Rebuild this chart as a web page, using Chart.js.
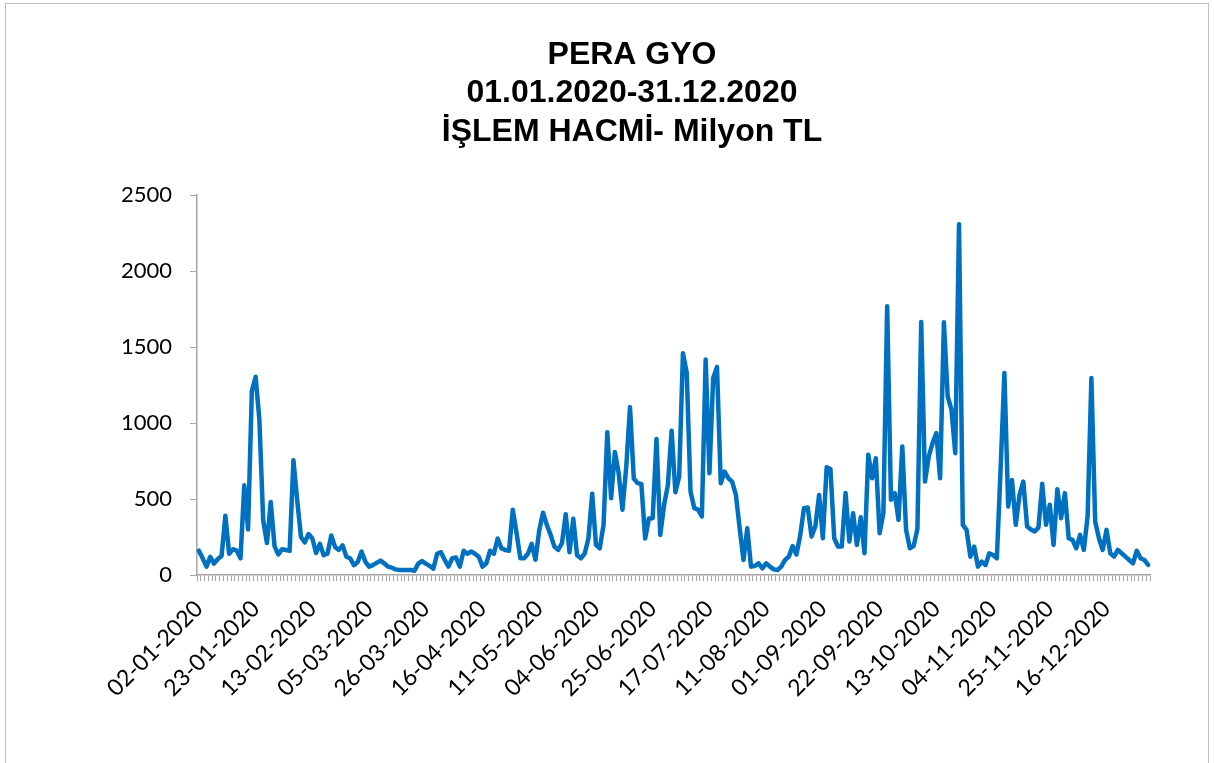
<!DOCTYPE html>
<html>
<head>
<meta charset="utf-8">
<script src="https://cdn.jsdelivr.net/npm/chart.js@4.4.0/dist/chart.umd.min.js"></script>
<style>
  html, body { margin: 0; padding: 0; background: #fff; }
  canvas { display: block; }
</style>
</head>
<body>
<canvas id="chart" width="1214" height="763"></canvas>
<script>
// trading days of 2020 (Borsa Istanbul)
const tradingDays = [
  '02-01-2020','03-01-2020','06-01-2020','07-01-2020','08-01-2020','09-01-2020','10-01-2020','13-01-2020','14-01-2020','15-01-2020','16-01-2020','17-01-2020','20-01-2020','21-01-2020','22-01-2020','23-01-2020','24-01-2020','27-01-2020','28-01-2020','29-01-2020','30-01-2020','31-01-2020',
  '03-02-2020','04-02-2020','05-02-2020','06-02-2020','07-02-2020','10-02-2020','11-02-2020','12-02-2020','13-02-2020','14-02-2020','17-02-2020','18-02-2020','19-02-2020','20-02-2020','21-02-2020','24-02-2020','25-02-2020','26-02-2020','27-02-2020','28-02-2020',
  '02-03-2020','03-03-2020','04-03-2020','05-03-2020','06-03-2020','09-03-2020','10-03-2020','11-03-2020','12-03-2020','13-03-2020','16-03-2020','17-03-2020','18-03-2020','19-03-2020','20-03-2020','23-03-2020','24-03-2020','25-03-2020','26-03-2020','27-03-2020','30-03-2020','31-03-2020',
  '01-04-2020','02-04-2020','03-04-2020','06-04-2020','07-04-2020','08-04-2020','09-04-2020','10-04-2020','13-04-2020','14-04-2020','15-04-2020','16-04-2020','17-04-2020','20-04-2020','21-04-2020','22-04-2020','24-04-2020','27-04-2020','28-04-2020','29-04-2020','30-04-2020',
  '04-05-2020','05-05-2020','06-05-2020','07-05-2020','08-05-2020','11-05-2020','12-05-2020','13-05-2020','14-05-2020','15-05-2020','18-05-2020','20-05-2020','21-05-2020','22-05-2020','27-05-2020','28-05-2020','29-05-2020',
  '01-06-2020','02-06-2020','03-06-2020','04-06-2020','05-06-2020','08-06-2020','09-06-2020','10-06-2020','11-06-2020','12-06-2020','15-06-2020','16-06-2020','17-06-2020','18-06-2020','19-06-2020','22-06-2020','23-06-2020','24-06-2020','25-06-2020','26-06-2020','29-06-2020','30-06-2020',
  '01-07-2020','02-07-2020','03-07-2020','06-07-2020','07-07-2020','08-07-2020','09-07-2020','10-07-2020','13-07-2020','14-07-2020','16-07-2020','17-07-2020','20-07-2020','21-07-2020','22-07-2020','23-07-2020','24-07-2020','27-07-2020','28-07-2020','29-07-2020','30-07-2020',
  '04-08-2020','05-08-2020','06-08-2020','07-08-2020','10-08-2020','11-08-2020','12-08-2020','13-08-2020','14-08-2020','17-08-2020','18-08-2020','19-08-2020','20-08-2020','21-08-2020','24-08-2020','25-08-2020','26-08-2020','27-08-2020','28-08-2020','31-08-2020',
  '01-09-2020','02-09-2020','03-09-2020','04-09-2020','07-09-2020','08-09-2020','09-09-2020','10-09-2020','11-09-2020','14-09-2020','15-09-2020','16-09-2020','17-09-2020','18-09-2020','21-09-2020','22-09-2020','23-09-2020','24-09-2020','25-09-2020','28-09-2020','29-09-2020','30-09-2020',
  '01-10-2020','02-10-2020','05-10-2020','06-10-2020','07-10-2020','08-10-2020','09-10-2020','12-10-2020','13-10-2020','14-10-2020','15-10-2020','16-10-2020','19-10-2020','20-10-2020','21-10-2020','22-10-2020','23-10-2020','26-10-2020','27-10-2020','28-10-2020','30-10-2020',
  '02-11-2020','03-11-2020','04-11-2020','05-11-2020','06-11-2020','09-11-2020','10-11-2020','11-11-2020','12-11-2020','13-11-2020','16-11-2020','17-11-2020','18-11-2020','19-11-2020','20-11-2020','23-11-2020','24-11-2020','25-11-2020','26-11-2020','27-11-2020','30-11-2020',
  '01-12-2020','02-12-2020','03-12-2020','04-12-2020','07-12-2020','08-12-2020','09-12-2020','10-12-2020','11-12-2020','14-12-2020','15-12-2020','16-12-2020','17-12-2020','18-12-2020','21-12-2020','22-12-2020','23-12-2020','24-12-2020','25-12-2020','28-12-2020','29-12-2020','30-12-2020','31-12-2020'
];

// dates that get a label under the axis
const shownDates = [
  '02-01-2020','23-01-2020','13-02-2020','05-03-2020','26-03-2020','16-04-2020',
  '11-05-2020','04-06-2020','25-06-2020','17-07-2020','11-08-2020','01-09-2020',
  '22-09-2020','13-10-2020','04-11-2020','25-11-2020','16-12-2020'
];

// daily trading volume, million TL
const volume = [
  160, 110, 55, 120, 75, 105, 125, 390, 140, 170, 160, 110, 590, 300, 1210, 1305, 1020, 360, 210, 480, 190, 135,
  170, 165, 160, 755, 490, 250, 215, 270, 240, 145, 205, 130, 140, 260, 185, 165, 195, 120, 110, 65,
  85, 155, 88, 55, 65, 80, 95, 77, 55, 48, 37, 33, 33, 33, 33, 28, 75, 92, 75, 60, 42, 140,
  150, 100, 55, 110, 115, 55, 160, 140, 155, 140, 120, 55, 77, 160, 140, 240, 175, 165, 160, 430, 275,
  110, 110, 140, 205, 100, 295, 410, 330, 265, 187, 165, 209, 400, 150, 370, 130, 110,
  140, 240, 535, 198, 176, 330, 940, 505, 810, 670, 430, 710, 1105, 635, 605, 600, 240, 372, 374, 895, 264, 460,
  590, 950, 545, 648, 1460, 1330, 550, 440, 430, 385, 1418, 670, 1297, 1370, 604, 681, 637, 615, 527, 308, 99,
  308, 55, 59, 77, 44, 77, 55, 37, 33, 55, 99, 121, 190, 135, 260, 440, 444, 253, 319, 527,
  242, 710, 697, 242, 187, 187, 539, 220, 407, 198, 380, 143, 791, 637, 769, 275, 407, 1769, 495, 539, 363, 846,
  297, 176, 190, 305, 1665, 615, 780, 868, 934, 637, 1664, 1176, 1088, 802, 2308, 330, 297, 121, 187, 55, 88,
  66, 143, 132, 110, 700, 1330, 451, 626, 330, 527, 615, 319, 300, 286, 312, 600, 330, 462, 198, 565, 374,
  539, 242, 231, 176, 264, 165, 385, 1297, 352, 242, 165, 297, 143, 121, 165, 143, 121, 99, 77, 160, 110, 99, 66
];

const titleLines = ['PERA GYO', '01.01.2020-31.12.2020', 'İŞLEM HACMİ- Milyon TL'];

// thin grey frame round the whole chart, like the Excel chart border
const frame = {
  id: 'frame',
  afterDraw(chart) {
    const c = chart.ctx;
    c.save();
    c.strokeStyle = '#bfbfbf';
    c.lineWidth = 1;
    c.strokeRect(5.5, 3.5, 1203, 800);
    c.restore();
  }
};

const ctx = document.getElementById('chart').getContext('2d');
new Chart(ctx, {
  type: 'line',
  data: {
    labels: tradingDays,
    datasets: [{
      data: volume,
      borderColor: '#0070C0',
      borderWidth: 4.5,
      pointRadius: 0,
      tension: 0,
      fill: false,
      borderJoinStyle: 'round',
      borderCapStyle: 'round'
    }]
  },
  options: {
    responsive: false,
    animation: false,
    devicePixelRatio: 1,
    layout: { padding: { left: 114, right: 64, top: 0, bottom: 52 } },
    plugins: {
      legend: { display: false },
      tooltip: { enabled: false },
      title: {
        display: true,
        text: titleLines,
        color: '#000',
        font: { family: 'Liberation Sans', size: 32, weight: 'bold', lineHeight: 1.2 },
        padding: { top: 36, bottom: 44 }
      }
    },
    scales: {
      x: {
        offset: true,
        grid: { display: true, offset: true, drawOnChartArea: false, drawTicks: true, tickLength: 6, color: '#a6a6a6', lineWidth: 1 },
        border: { display: true, color: '#a6a6a6', width: 1.5 },
        ticks: {
          autoSkip: false,
          minRotation: 45,
          maxRotation: 45,
          padding: 14,
          color: '#000',
          font: { family: 'Lato', size: 23 },
          callback: function (value) {
            const d = this.getLabelForValue(value);
            return shownDates.includes(d) ? d : '';
          }
        },
        afterFit: (scale) => { scale.height = 136; }
      },
      y: {
        min: 0,
        max: 2500,
        ticks: {
          stepSize: 500,
          padding: 18,
          color: '#000',
          font: { family: 'Lato', size: 22 },
          callback: (value) => String(value)
        },
        grid: { drawOnChartArea: false, drawTicks: true, tickLength: 7, color: '#a6a6a6' },
        border: { display: true, color: '#a6a6a6', width: 1.5 },
        afterFit: (scale) => { scale.width = 83; }
      }
    }
  },
  plugins: [frame]
});
</script>
</body>
</html>
